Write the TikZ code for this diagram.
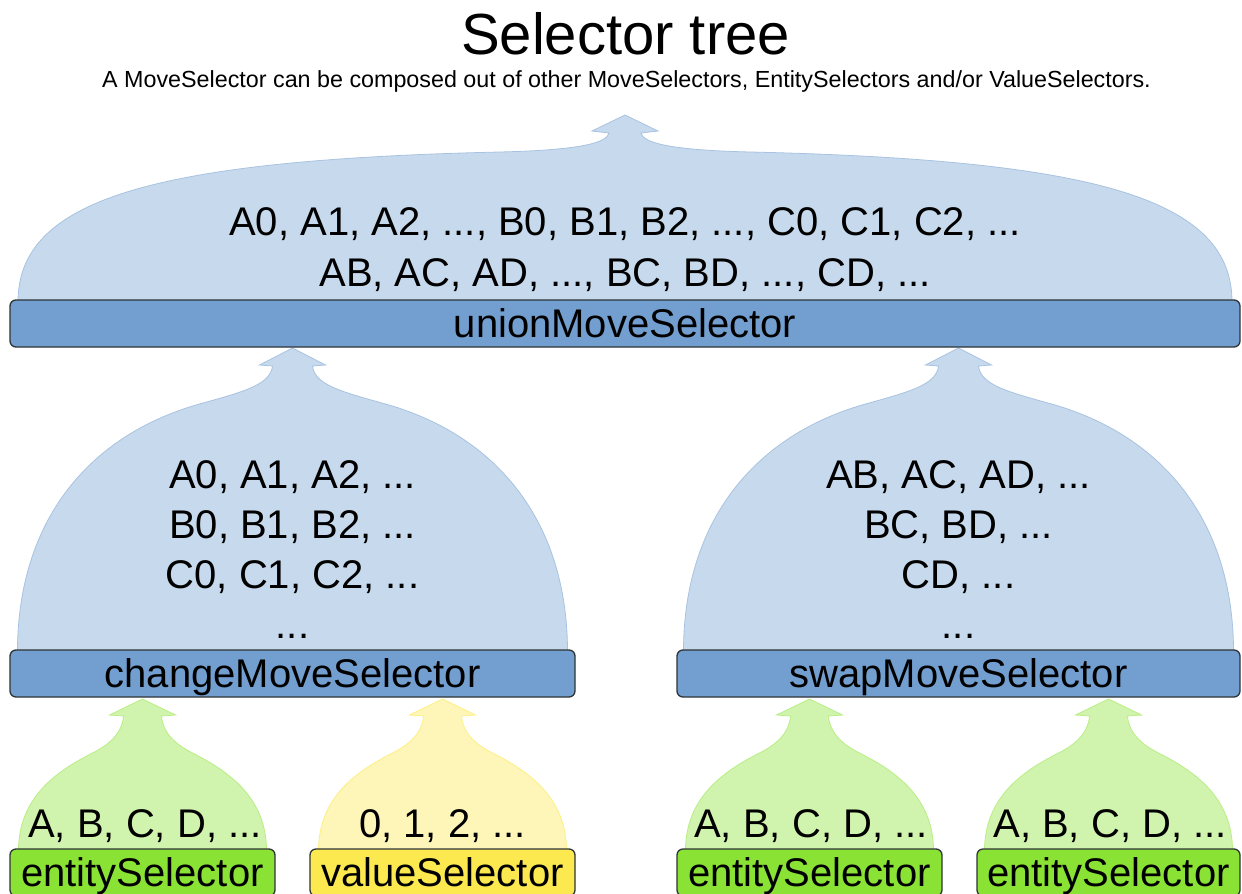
\documentclass[tikz,border=0pt]{standalone}
\usepackage{fontspec}
\setmainfont{Liberation Sans}
\definecolor{boxblue}{HTML}{729FCF}
\definecolor{boxgreen}{HTML}{8AE234}
\definecolor{boxyellow}{HTML}{FCE94F}
\definecolor{boxline}{HTML}{2E3436}
\newcommand\topdome[2]{%
 \path[#1] (#2,115) -- (#2-33,131) -- (#2-16,133)
  .. controls (#2-18,142) and (#2-40,150) .. (#2-125,152)
  .. controls (#2-475,160) and (#2-607,200) .. (#2-607,302)
  -- (#2+607,302)
  .. controls (#2+607,200) and (#2+475,160) .. (#2+125,152)
  .. controls (#2+40,150) and (#2+18,142) .. (#2+16,133)
  -- (#2+33,131) -- cycle;}
\newcommand\middome[2]{%
 \path[#1] (#2,348) -- (#2-33,365) -- (#2-20,366)
  .. controls (#2-22,385) and (#2-50,392) .. (#2-93,404)
  .. controls (#2-203,435) and (#2-275,520) .. (#2-275,652)
  -- (#2+275,652)
  .. controls (#2+275,520) and (#2+203,435) .. (#2+93,404)
  .. controls (#2+50,392) and (#2+22,385) .. (#2+20,366)
  -- (#2+33,365) -- cycle;}
\newcommand\botdome[2]{%
 \path[#1] (#2,699) -- (#2-33,715) -- (#2-19,716)
  .. controls (#2-20,732) and (#2-32,744) .. (#2-50,753)
  .. controls (#2-90,773) and (#2-124,800) .. (#2-124,851)
  -- (#2+124,851)
  .. controls (#2+124,800) and (#2+90,773) .. (#2+50,753)
  .. controls (#2+32,744) and (#2+20,732) .. (#2+19,716)
  -- (#2+33,715) -- cycle;}
\begin{document}
\begin{tikzpicture}[x=1pt,y=-1pt,
  selbox/.style={draw=boxline, line width=1.3pt, rounded corners=6pt,
    minimum height=47pt, inner sep=0pt, text height=29pt, text depth=2pt,
    font=\fontsize{40}{48}\selectfont},
  bluebox/.style={selbox, fill=boxblue},
  greenbox/.style={selbox, fill=boxgreen},
  yellowbox/.style={selbox, fill=boxyellow},
  bluedome/.style={fill=boxblue!40!white, draw=boxblue!62!white, line width=0.8pt},
  greendome/.style={fill=boxgreen!40!white, draw=boxgreen!60!white, line width=0.8pt},
  yellowdome/.style={fill=boxyellow!40!white, draw=boxyellow!70!white, line width=0.8pt},
  dtext/.style={anchor=base, inner sep=0pt, font=\fontsize{40}{48}\selectfont},
]
\useasboundingbox (0,0) rectangle (1242,894);
\fill[white] (0,0) rectangle (1242,894);

% title
\node[anchor=base, inner sep=0pt, font=\fontsize{58}{66}\selectfont] (title) at (625.5,54) {Selector tree};
\node[anchor=base, inner sep=0pt, font=\fontsize{23.3}{27}\selectfont] (subtitle) at (626.5,87)
  {A MoveSelector can be composed out of other MoveSelectors, EntitySelectors and/or ValueSelectors.};

% domes
\topdome{bluedome}{625}
\middome{bluedome}{292.5}
\middome{bluedome}{958.5}
\botdome{greendome}{142.5}
\botdome{yellowdome}{442.5}
\botdome{greendome}{809.5}
\botdome{greendome}{1108.5}

% boxes
\node[bluebox, minimum width=1230pt] (union) at (625,323.5) {unionMoveSelector};
\node[bluebox, minimum width=565pt] (change) at (292.5,673.5) {changeMoveSelector};
\node[bluebox, minimum width=563pt] (swap) at (958.5,673.5) {swapMoveSelector};
\node[greenbox, minimum width=265pt] (ent1) at (142.5,872.5) {entitySelector};
\node[yellowbox, minimum width=265pt] (val) at (442.5,872.5) {valueSelector};
\node[greenbox, minimum width=265pt] (ent2) at (809.5,872.5) {entitySelector};
\node[greenbox, minimum width=263pt] (ent3) at (1108.5,872.5) {entitySelector};

% dome texts
\node[dtext] (u1) at (625,235) {A0, A1, A2, ..., B0, B1, B2, ..., C0, C1, C2, ...};
\node[dtext] (u2) at (625,286) {AB, AC, AD, ..., BC, BD, ..., CD, ...};

\node[dtext] (c1) at (292.5,488) {A0, A1, A2, ...};
\node[dtext] (c2) at (292.5,538) {B0, B1, B2, ...};
\node[dtext] (c3) at (292.5,588) {C0, C1, C2, ...};
\node[dtext] (c4) at (292.5,638) {...};

\node[dtext] (s1) at (958.5,488) {AB, AC, AD, ...};
\node[dtext] (s2) at (958.5,538) {BC, BD, ...};
\node[dtext] (s3) at (958.5,588) {CD, ...};
\node[dtext] (s4) at (958.5,638) {...};

\node[dtext] (e1) at (145,837) {A, B, C, D, ...};
\node[dtext] (v1) at (442.5,837) {0, 1, 2, ...};
\node[dtext] (e2) at (811,837) {A, B, C, D, ...};
\node[dtext] (e3) at (1110,837) {A, B, C, D, ...};
\end{tikzpicture}
\end{document}
